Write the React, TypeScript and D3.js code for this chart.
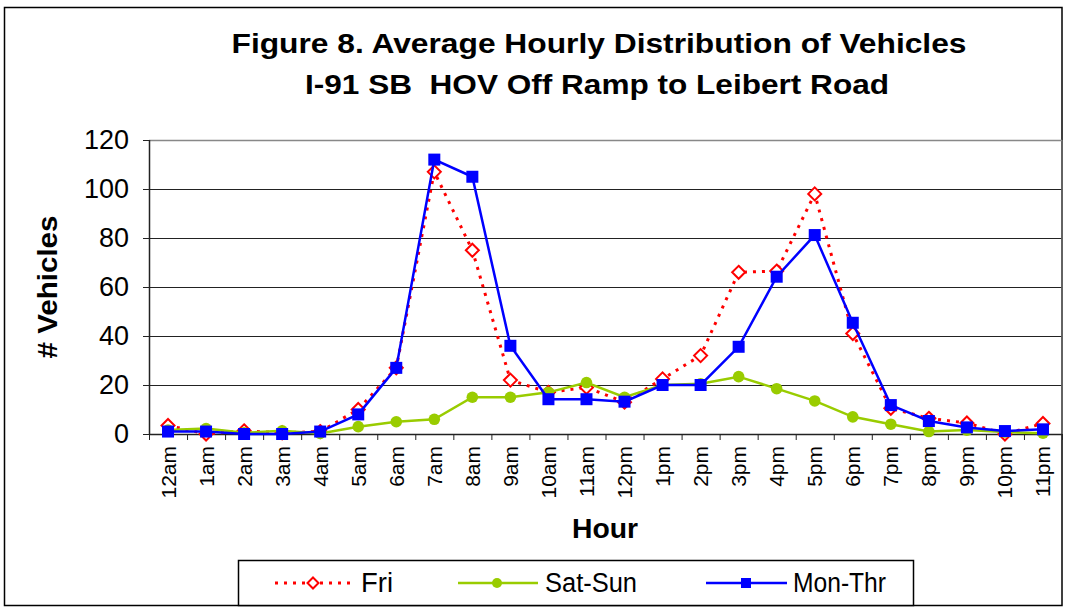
import React from 'react';
import * as d3 from 'd3';

const hours = ['12am','1am','2am','3am','4am','5am','6am','7am','8am','9am','10am','11am','12pm','1pm','2pm','3pm','4pm','5pm','6pm','7pm','8pm','9pm','10pm','11pm'];
const fri = [3.5, 0, 1.3, 0.5, 1, 10, 27, 107, 75, 22, 17, 19, 13, 22.5, 32, 66, 66.5, 98, 41, 10.5, 6.4, 4.5, 0, 4.3];
const satSun = [1.6, 2.2, 0.5, 1.3, 0.2, 3, 5, 6, 15, 15, 17, 21, 15, 20, 20.5, 23.4, 18.5, 13.5, 7, 4, 1, 1.6, 0.8, 0.3];
const monThr = [1, 1, 0, 0, 1, 8, 27, 112, 105, 36, 14.2, 14.2, 13.2, 20, 20, 35.6, 64.2, 81.2, 45.4, 11.8, 5.3, 2.7, 1.2, 1.9];
const yTicks = [0, 20, 40, 60, 80, 100, 120];
const seriesNames = ['Fri', 'Sat-Sun', 'Mon-Thr'];

const W = 1065, H = 614;
const plot = { left: 149, right: 1062, top: 140, bottom: 434 };
const FONT = '"Liberation Sans", Arial, sans-serif';

export default function App() {
  const x = d3.scaleBand<string>().domain(hours).range([plot.left, plot.right]);
  const xc = (h: string) => (x(h) as number) + x.bandwidth() / 2;
  const y = d3.scaleLinear().domain([0, 120]).range([plot.bottom, plot.top]);
  const line = d3.line<number>().x((_, i) => xc(hours[i])).y(d => y(d));

  const RED = '#FF0000', GREEN = '#99CC00', BLUE = '#0000FF';

  const diamond = (cx: number, cy: number, r = 6.5) =>
    `M${cx},${cy - r}L${cx + r},${cy}L${cx},${cy + r}L${cx - r},${cy}Z`;

  const boundaries = d3.range(hours.length + 1).map(i => plot.left + i * x.step());

  const legendY = 583;
  const legendItems = [
    { name: seriesNames[0], x1: 275, x2: 351, mx: 313, tx: 361, tl: 32 },
    { name: seriesNames[1], x1: 458, x2: 538, mx: 497, tx: 545, tl: 92 },
    { name: seriesNames[2], x1: 706, x2: 787, mx: 746, tx: 793, tl: 93 },
  ];

  return (
    <svg width={W} height={H} style={{ position: 'absolute', left: 0, top: 0, background: '#fff' }} fontFamily={FONT}>
      <rect x={0} y={0} width={W} height={H} fill="#fff" />
      <rect x={4.5} y={7.5} width={1057.5} height={598} fill="none" stroke="#000" strokeWidth={1.5} />

      <text x={599} y={53} textAnchor="middle" fontSize={28} fontWeight="bold" textLength={735} lengthAdjust="spacingAndGlyphs">Figure 8. Average Hourly Distribution of Vehicles</text>
      <text x={597} y={94} textAnchor="middle" fontSize={28} fontWeight="bold" textLength={584} lengthAdjust="spacingAndGlyphs" style={{ whiteSpace: 'pre' }}>I-91 SB  HOV Off Ramp to Leibert Road</text>

      {/* gridlines */}
      {yTicks.map(t => (
        <line key={t} x1={plot.left} x2={plot.right} y1={y(t) + 0.5} y2={y(t) + 0.5}
          stroke={t === 120 ? '#888' : '#222'} strokeWidth={t === 120 ? 1.5 : 1} />
      ))}
      <line x1={plot.right} x2={plot.right} y1={plot.top} y2={plot.bottom} stroke="#888" strokeWidth={1} />
      {/* axes */}
      <line x1={plot.left + 0.5} x2={plot.left + 0.5} y1={plot.top} y2={plot.bottom + 1} stroke="#222" strokeWidth={1.5} />
      <line x1={plot.left} x2={plot.right} y1={plot.bottom + 0.5} y2={plot.bottom + 0.5} stroke="#222" strokeWidth={1.5} />
      {yTicks.map(t => (
        <g key={'yt' + t}>
          <line x1={plot.left - 6} x2={plot.left} y1={y(t) + 0.5} y2={y(t) + 0.5} stroke="#222" strokeWidth={1} />
          <text x={129} y={y(t)} textAnchor="end" dominantBaseline="central" fontSize={27}
            textLength={String(t).length * 15} lengthAdjust="spacingAndGlyphs">{t}</text>
        </g>
      ))}
      {boundaries.map((bx, i) => (
        <line key={'xt' + i} x1={bx + 0.5} x2={bx + 0.5} y1={plot.bottom} y2={plot.bottom + 6} stroke="#222" strokeWidth={1} />
      ))}
      {hours.map(h => (
        <text key={h} transform={`translate(${xc(h)},${446}) rotate(-90)`} textAnchor="end" dominantBaseline="central" fontSize={21}>{h}</text>
      ))}

      <text transform={`translate(47,287) rotate(-90)`} textAnchor="middle" dominantBaseline="central" fontSize={28} fontWeight="bold" textLength={143} lengthAdjust="spacingAndGlyphs">{'# Vehicles'}</text>
      <text x={605} y={538} textAnchor="middle" fontSize={28} fontWeight="bold" textLength={66} lengthAdjust="spacingAndGlyphs">Hour</text>

      {/* series */}
      <path d={line(fri) as string} fill="none" stroke={RED} strokeWidth={3} strokeDasharray="3,6" />
      {fri.map((v, i) => (
        <path key={'f' + i} d={diamond(xc(hours[i]), y(v))} fill="#fff" stroke={RED} strokeWidth={2} />
      ))}
      <path d={line(satSun) as string} fill="none" stroke={GREEN} strokeWidth={2.5} />
      {satSun.map((v, i) => (
        <circle key={'s' + i} cx={xc(hours[i])} cy={y(v)} r={5.8} fill={GREEN} />
      ))}
      <path d={line(monThr) as string} fill="none" stroke={BLUE} strokeWidth={2.5} />
      {monThr.map((v, i) => (
        <rect key={'m' + i} x={xc(hours[i]) - 6} y={y(v) - 6} width={12} height={12} fill={BLUE} />
      ))}

      {/* legend */}
      <rect x={238.5} y={560.5} width={675} height={45} fill="#fff" stroke="#000" strokeWidth={1.5} />
      {legendItems.map((it, i) => (
        <g key={it.name}>
          {i === 0 && <>
            <line x1={it.x1} x2={it.x2} y1={legendY} y2={legendY} stroke={RED} strokeWidth={3} strokeDasharray="3,6" />
            <path d={diamond(it.mx, legendY, 5.5)} fill="#fff" stroke={RED} strokeWidth={2} />
          </>}
          {i === 1 && <>
            <line x1={it.x1} x2={it.x2} y1={legendY} y2={legendY} stroke={GREEN} strokeWidth={2.5} />
            <circle cx={it.mx} cy={legendY} r={5} fill={GREEN} />
          </>}
          {i === 2 && <>
            <line x1={it.x1} x2={it.x2} y1={legendY} y2={legendY} stroke={BLUE} strokeWidth={2.5} />
            <rect x={it.mx - 5} y={legendY - 5} width={10} height={10} fill={BLUE} />
          </>}
          <text x={it.tx} y={legendY} dominantBaseline="central" fontSize={27} textLength={it.tl} lengthAdjust="spacingAndGlyphs">{it.name}</text>
        </g>
      ))}
    </svg>
  );
}
